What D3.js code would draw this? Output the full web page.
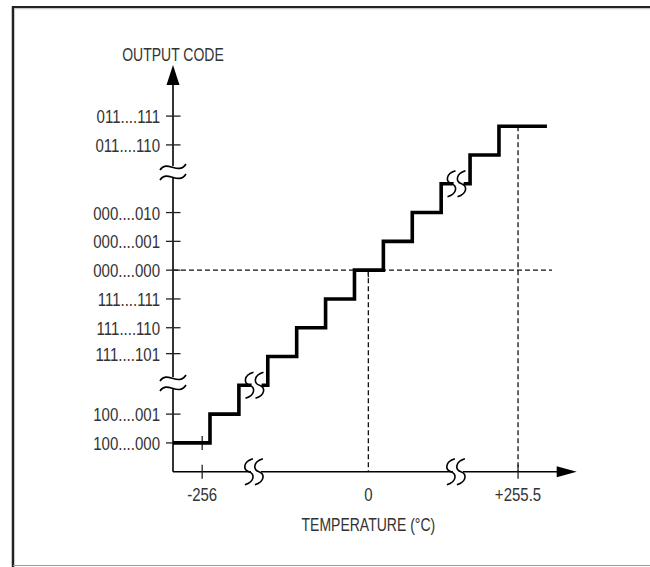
<!DOCTYPE html>
<html>
<head>
<meta charset="utf-8">
<script src="https://cdn.jsdelivr.net/npm/d3@7"></script>
<style>
  html, body { margin: 0; padding: 0; background: #fff; }
  svg { display: block; }
  text { font-family: "Liberation Sans Narrow", "Arial Narrow", "Liberation Sans", Arial, sans-serif; fill: #333; }
</style>
</head>
<body>
<svg id="chart" width="650" height="567"></svg>
<script>
// ---------- data ----------
// output-code tick labels and their level on the code axis
const codeLabels = ["100....000", "100....001", "111....101", "111....110", "111....111",
                    "000....000", "000....001", "000....010", "011....110", "011....111"];
const codeLevels = [0, 1, 3.1, 4, 5, 6, 7, 8, 10.35, 11.35];

// temperature tick labels and their position on the (broken) temperature axis
const tempLabels = ["-256", "0", "+255.5"];
const tempPos = [-0.27, 5.48, 10.66];

// transfer function: tread levels and tread edges (step units)
const stepLevels = [0, 1, 2, 3, 4, 5, 6, 7, 8, 9, 10, 11];
const stepEdges = [-1.28, 0, 1, 2, 3, 4, 5, 6, 7, 8, 9, 10, 11.66];

// axis breaks
const yAxisBreaks = [2.08, 9.41];        // levels on code axis
const xAxisBreaks = [1.52, 8.51];        // positions on temperature axis
const curveBreaks = [[1.54, 2.0], [8.53, 9.0]]; // [position, level] on the staircase

const xDomain = [-1.28, 12.69];
const yDomain = [-1, 13.125];

// ---------- drawing ----------
const svg = d3.select("#chart");
const x = d3.scaleLinear().domain(xDomain).range([173, 576.7]);
const y = d3.scaleLinear().domain(yDomain).range([471.7, 65]);

const x0 = x(xDomain[0]), yBase = y(yDomain[0]);

// condense text (narrow face substitute)
function condense(sel, f) {
  sel.each(function () {
    const w = this.getComputedTextLength();
    d3.select(this).attr("textLength", w * f).attr("lengthAdjust", "spacingAndGlyphs");
  });
}

// frame
svg.append("line").attr("x1", 13).attr("x2", 13).attr("y1", 6).attr("y2", 567)
  .attr("stroke", "#222").attr("stroke-width", 2.5);
svg.append("line").attr("x1", 12).attr("x2", 650).attr("y1", 7).attr("y2", 7)
  .attr("stroke", "#222").attr("stroke-width", 2);
svg.append("line").attr("x1", 14).attr("x2", 650).attr("y1", 8.7).attr("y2", 8.7)
  .attr("stroke", "#bbb").attr("stroke-width", 1);
svg.append("line").attr("x1", 13).attr("x2", 650).attr("y1", 565.5).attr("y2", 565.5)
  .attr("stroke", "#999").attr("stroke-width", 1);

// dashed reference lines
const dash = { stroke: "#111", "stroke-width": 1.3, "stroke-dasharray": "5,3" };
function applyAttrs(sel, o) { Object.entries(o).forEach(([k, v]) => sel.attr(k, v)); return sel; }
applyAttrs(svg.append("line").attr("x1", x0).attr("x2", 552).attr("y1", y(6)).attr("y2", y(6)), dash);
applyAttrs(svg.append("line").attr("x1", x(tempPos[1])).attr("x2", x(tempPos[1]))
  .attr("y1", y(6)).attr("y2", yBase), dash);
applyAttrs(svg.append("line").attr("x1", x(tempPos[2])).attr("x2", x(tempPos[2]))
  .attr("y1", y(11)).attr("y2", yBase), dash);

// axes lines
svg.append("line").attr("x1", x0).attr("x2", x0).attr("y1", y(yDomain[1]) + 18).attr("y2", yBase)
  .attr("stroke", "#000").attr("stroke-width", 1.6);
svg.append("line").attr("x1", x0).attr("x2", x(xDomain[1]) - 18).attr("y1", yBase).attr("y2", yBase)
  .attr("stroke", "#000").attr("stroke-width", 1.6);
// arrowheads
const ty = y(yDomain[1]);
svg.append("path").attr("d", `M${x0},${ty} L${x0 - 6.5},${ty + 20} L${x0 + 6.5},${ty + 20} Z`).attr("fill", "#000");
const tx = x(xDomain[1]);
svg.append("path").attr("d", `M${tx},${yBase} L${tx - 20},${yBase - 5.5} L${tx - 20},${yBase + 5.5} Z`).attr("fill", "#000");

// y ticks + labels
const yt = svg.append("g");
yt.selectAll("line").data(codeLevels).join("line")
  .attr("x1", x0 - 7).attr("x2", x0 + 7.5)
  .attr("y1", d => y(d)).attr("y2", d => y(d))
  .attr("stroke", "#222").attr("stroke-width", 1.3);
yt.selectAll("text").data(codeLevels).join("text")
  .attr("x", x0 - 13).attr("y", d => y(d) + 7)
  .attr("text-anchor", "end").attr("font-size", 19)
  .text((d, i) => codeLabels[i])
  .call(condense, 0.79);

// x ticks + labels
const xt = svg.append("g");
xt.selectAll("line.ax").data([tempPos[0], tempPos[2]]).join("line").attr("class", "ax")
  .attr("x1", d => x(d)).attr("x2", d => x(d))
  .attr("y1", yBase - 7).attr("y2", yBase + 7)
  .attr("stroke", "#222").attr("stroke-width", 1.3);
// small tick marks on the staircase
svg.append("line").attr("x1", x(tempPos[0])).attr("x2", x(tempPos[0]))
  .attr("y1", y(0) - 7).attr("y2", y(0) + 7).attr("stroke", "#222").attr("stroke-width", 1.3);
svg.append("line").attr("x1", x(tempPos[1])).attr("x2", x(tempPos[1]))
  .attr("y1", y(6)).attr("y2", y(6) + 7).attr("stroke", "#222").attr("stroke-width", 1.3);
xt.selectAll("text").data(tempPos).join("text")
  .attr("x", d => x(d)).attr("y", 500.5)
  .attr("text-anchor", "middle").attr("font-size", 19)
  .text((d, i) => tempLabels[i])
  .call(condense, 0.79);

// staircase
const pts = [];
stepLevels.forEach((lv, i) => {
  pts.push([x(stepEdges[i]), y(lv)]);
  pts.push([x(stepEdges[i + 1]), y(lv)]);
});
svg.append("path").attr("d", d3.line()(pts))
  .attr("fill", "none").attr("stroke", "#000").attr("stroke-width", 3.6)
  .attr("stroke-linejoin", "miter").attr("stroke-linecap", "butt");

// break symbols
function sCurve(cx, cy) {
  const h = 13;
  return `M${cx + 4},${cy - h} C${cx - 6},${cy - h + 3} ${cx - 6},${cy - 2} ${cx},${cy} C${cx + 6},${cy + 2} ${cx + 6},${cy + h - 3} ${cx - 4},${cy + h}`;
}
function sBreak(cx, cy) {
  const g = svg.append("g");
  const a = cx - 5, b = cx + 5;
  g.append("path")
    .attr("d", `M${a + 4},${cy - 13} L${b + 4},${cy - 13} L${b + 2},${cy} L${b - 4},${cy + 13} L${a - 4},${cy + 13} L${a + 2},${cy} Z`)
    .attr("fill", "#fff");
  [a, b].forEach(c => g.append("path").attr("d", sCurve(c, cy))
    .attr("fill", "none").attr("stroke", "#000").attr("stroke-width", 1.6));
}
function tildeBreak(cx, cy) {
  const g = svg.append("g");
  const w = 13;
  const t = (yy) => `M${cx - w},${yy + 3} C${cx - 6},${yy - 8} ${cx + 5},${yy + 9} ${cx + w},${yy - 3}`;
  g.append("rect").attr("x", cx - 3).attr("y", cy - 6).attr("width", 6).attr("height", 12).attr("fill", "#fff");
  g.append("path").attr("d", t(cy - 5)).attr("fill", "none").attr("stroke", "#000").attr("stroke-width", 1.7);
  g.append("path").attr("d", t(cy + 5)).attr("fill", "none").attr("stroke", "#000").attr("stroke-width", 1.7);
}
yAxisBreaks.forEach(lv => tildeBreak(x0, y(lv)));
xAxisBreaks.forEach(p => sBreak(x(p), yBase));
curveBreaks.forEach(([p, lv]) => sBreak(x(p), y(lv)));

// axis titles
svg.append("text").attr("x", x0).attr("y", 60.7).attr("text-anchor", "middle")
  .attr("font-size", 17.5).text("OUTPUT CODE").call(condense, 0.8);
svg.append("text").attr("x", x(tempPos[1])).attr("y", 531).attr("text-anchor", "middle")
  .attr("font-size", 17.5).text("TEMPERATURE (°C)").call(condense, 0.8);
</script>
</body>
</html>
